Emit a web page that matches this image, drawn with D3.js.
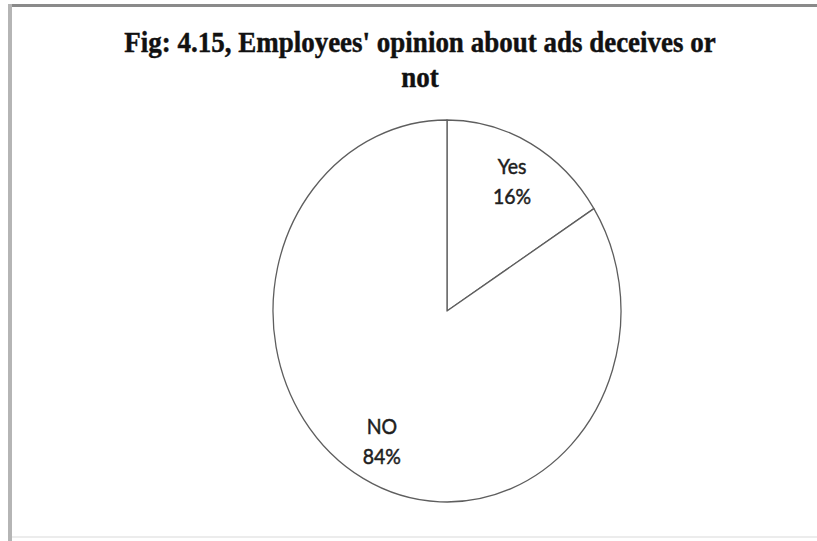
<!DOCTYPE html>
<html>
<head>
<meta charset="utf-8">
<script src="https://cdn.jsdelivr.net/npm/d3@7"></script>
<style>
  html, body { margin: 0; padding: 0; background: #ffffff; }
  svg { display: block; }
</style>
</head>
<body>
<svg id="chart" width="817" height="541"></svg>
<script>
// Survey answers and their shares (percent)
const categories = ["Yes", "NO"];
const shares = [16, 84];
const titleLines = ["Fig: 4.15, Employees' opinion about ads deceives or", "not"];

const W = 817, H = 541;
const svg = d3.select("#chart");

// Chart frame
svg.append("rect").attr("x", 0).attr("y", 0).attr("width", W).attr("height", H).attr("fill", "#ffffff");
svg.append("line").attr("x1", 10).attr("x2", W).attr("y1", 5.5).attr("y2", 5.5)
  .attr("stroke", "#8a8a8a").attr("stroke-width", 3);
svg.append("line").attr("x1", 10).attr("x2", 10).attr("y1", 4).attr("y2", H)
  .attr("stroke", "#b5b5b5").attr("stroke-width", 4);
svg.append("line").attr("x1", 12).attr("x2", W).attr("y1", 537).attr("y2", 537)
  .attr("stroke", "#ececec").attr("stroke-width", 2);

// Title (two lines, bold serif, slightly tall)
const sy = 1.1;
const title = svg.append("g").attr("transform", `translate(420,0)`);
titleLines.forEach((t, i) => {
  title.append("text")
    .attr("transform", `translate(0,${52 + i * 35}) scale(1,${sy})`)
    .attr("text-anchor", "middle")
    .attr("font-family", "'Liberation Serif', 'Times New Roman', serif")
    .attr("font-weight", "bold")
    .attr("font-size", 27)
    .attr("fill", "#111")
    .attr("stroke", "#111")
    .attr("stroke-width", 0.4)
    .text(t);
});

// Pie geometry
const cx = 447, cy = 311, R = 191, xScale = 0.911;
const data = categories.map((c, i) => ({ label: c, value: shares[i] }));
const pie = d3.pie().value(d => d.value).sort(null);
const arcs = pie(data);
const arc = d3.arc().innerRadius(0).outerRadius(R);
const labelArc = d3.arc().innerRadius(R * 0.777).outerRadius(R * 0.777);

const pieG = svg.append("g").attr("transform", `translate(${cx},${cy}) scale(${xScale},1)`);
pieG.selectAll("path")
  .data(arcs)
  .join("path")
  .attr("d", arc)
  .attr("fill", "#ffffff")
  .attr("stroke", "#5e5e5e")
  .attr("stroke-width", 1.3)
  .attr("stroke-linejoin", "round")
  .attr("vector-effect", "non-scaling-stroke");

// Data labels: category and percentage on two lines
const labels = svg.append("g");
arcs.forEach(a => {
  const [lx, ly] = labelArc.centroid(a);
  const x = cx + lx * xScale, y = cy + ly;
  const lines = [a.data.label, a.data.value + "%"];
  lines.forEach((t, i) => {
    labels.append("text")
      .attr("transform", `translate(${x},${y - 7 + i * 30}) scale(1,${sy})`)
      .attr("text-anchor", "middle")
      .attr("font-family", "Lato, 'Open Sans', sans-serif")
      .attr("font-size", 19.5)
      .attr("fill", "#1e1e1e")
      .attr("stroke", "#1e1e1e")
      .attr("stroke-width", 0.45)
      .text(t);
  });
});
</script>
</body>
</html>
